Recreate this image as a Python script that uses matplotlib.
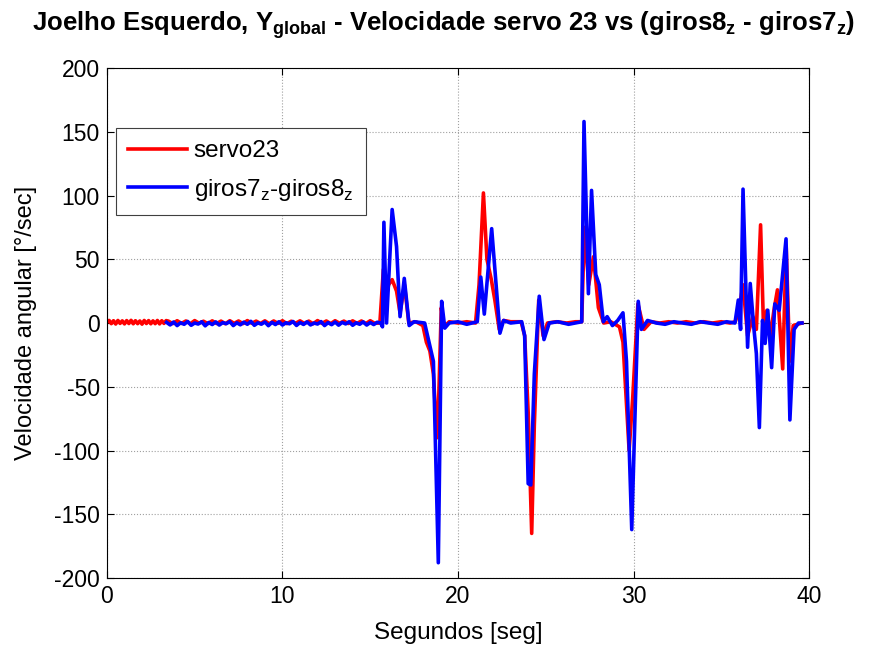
import numpy as np
import matplotlib
matplotlib.use("Agg")
import matplotlib.pyplot as plt

plt.rcParams['font.family'] = ['Liberation Sans', 'DejaVu Sans']
plt.rcParams['mathtext.fontset'] = 'custom'
plt.rcParams['mathtext.rm'] = 'Liberation Sans'
plt.rcParams['mathtext.bf'] = 'Liberation Sans:bold'
plt.rcParams['axes.unicode_minus'] = False

# servo23 - ondulacao inicial (0 a 3.4 s, passo 0.125)
red_ini_t = np.arange(0, 3.5, 0.125)
red_ini_v = [0.5, 2.0, -0.5, 1.8, -0.8, 2.0, -0.3, 1.7, -0.7, 1.9, -0.4, 2.1, -0.6, 1.8,
             -0.5, 1.6, -0.9, 2.0, -0.4, 1.9, -0.6, 1.7, -0.5, 2.0, -0.7, 1.8, -0.3, 1.9]
# servo23 - repouso (3.5 a 15.25 s, passo 0.25)
red_rep_t = np.arange(3.5, 15.5, 0.25)
red_rep_v = [1.5, -0.5, 1.8, -0.3, 1.6, -0.6, 1.9, -0.2, 1.4, -0.5, 1.7, -0.4, 1.5, -0.6,
             1.8, -0.3, 1.6, -0.5, 1.9, -0.2, 1.5, -0.4, 1.7, -0.6, 1.6, -0.3, 1.8, -0.5,
             1.4, -0.2, 1.7, -0.4, 1.5, -0.6, 1.9, -0.3, 1.6, -0.5, 1.8, -0.2, 1.5, -0.4,
             1.7, -0.3, 1.6, -0.5, 1.8, -0.2]
# servo23 - movimentos
red_mov_t = [15.55, 15.75, 15.9, 16.05, 16.25, 16.5, 16.7, 16.95, 17.2, 17.6, 18.0, 18.2,
             18.4, 18.6, 18.8, 18.9, 19.05, 19.2, 19.5, 20.0, 20.5, 21.0, 21.2, 21.45, 21.65,
             21.9, 22.1, 22.35, 22.6, 23.0, 23.6, 23.8, 24.0, 24.2, 24.35, 24.6, 24.85, 25.1,
             25.6, 26.2, 26.7, 27.05, 27.2, 27.45, 27.72, 28.0, 28.3, 28.7, 29.2, 29.4, 29.75,
             29.95, 30.25, 30.6, 31.0, 31.5, 32.0, 32.5, 33.0, 33.5, 34.0, 34.5, 35.0, 35.5,
             35.8, 36.0, 36.24, 36.5, 36.8, 37.0, 37.24, 37.4, 37.6, 37.8, 38.0, 38.2, 38.5,
             38.7, 38.9, 39.1, 39.6]
red_mov_v = [0, 42, 20, 30, 34, 25, 8, 30, 0, 1, -2, -15,
             -22, -40, -90, -60, 12, -3, 1, 0, 1, 0, 30, 102, 50,
             34, 18, -5, 2, 1, 1, -10, -70, -165, -80, 18, -10, 0,
             1, 0, 1, 1, 75, 30, 52, 12, 0, 1, -3, -15, -100,
             -60, 15, -5, 1, 0, 1, 0, 1, 0, 1, 0, 1, 0,
             1, 10, 30, -10, 5, -5, 77, 0, 10, -10, 10, 26, -36,
             60, -30, -2, 0]

# giros7z - giros8z - repouso (3.4 a 15.4 s, passo 0.2)
blue_rep_t = np.arange(3.4, 15.5, 0.2)
blue_rep_v = [0.5, -1.5, 0.8, -2.0, 0.2, -1.0, 1.2, -1.8, 0.0, -0.8, 1.0, -2.2, 0.4, -1.2,
              0.9, -1.6, 0.3, -0.5, 1.1, -2.0, 0.2, -1.4, 0.7, -1.0, 1.3, -1.8, 0.1, -0.9,
              0.8, -2.1, 0.5, -1.2, 1.0, -1.6, 0.2, -0.6, 1.2, -1.9, 0.4, -1.1, 0.9, -1.5,
              0.0, -0.8, 1.1, -2.0, 0.3, -1.3, 0.8, -1.7, 0.5, -0.7, 1.0, -1.8, 0.2, -1.0,
              0.9, -1.6, 0.4, -1.2, 0.6]
# giros7z - giros8z - movimentos
blue_mov_t = [15.6, 15.7, 15.78, 15.93, 16.25, 16.5, 16.7, 16.94, 17.22, 17.5, 18.1, 18.3,
              18.6, 18.88, 19.07, 19.25, 19.5, 20.0, 20.5, 21.1, 21.3, 21.5, 21.92, 22.39,
              22.6, 23.0, 23.63, 23.8, 24.0, 24.15, 24.35, 24.63, 24.9, 25.2, 25.7, 26.3,
              27.05, 27.18, 27.43, 27.61, 27.85, 28.05, 28.28, 28.5, 28.8, 29.1, 29.4, 29.6,
              29.9, 30.27, 30.45, 30.8, 31.3, 31.8, 32.3, 32.8, 33.3, 33.8, 34.3, 34.8, 35.3,
              35.78, 35.97, 36.1, 36.24, 36.5, 36.65, 36.85, 37.0, 37.17, 37.35, 37.5, 37.65,
              37.87, 38.05, 38.3, 38.69, 38.91, 39.15, 39.4, 39.6]
blue_mov_v = [0, -3, 79, 0, 89, 60, 5, 35, -2, 1, 0, -12,
              -30, -188, 17, -4, 0, 1, -1, 1, 36, 7, 74, -8,
              2, 0, 1, -10, -126, -127, -40, 21, -13, 0, 1, -1,
              1, 158, 23, 104, 38, 30, 1, 5, -2, 2, 8, -30,
              -162, 17, -5, 2, 0, -1, 1, 0, -1, 1, 0, -1, 1,
              0, 18, -5, 105, -19, 31, -3, -24, -82, 2, -16, 10,
              -35, 15, 10, 66, -76, -5, 0, 0]

red_t = np.concatenate([red_ini_t, red_rep_t, red_mov_t])
red_v = np.concatenate([red_ini_v, red_rep_v, red_mov_v])
blue_t = np.concatenate([blue_rep_t, blue_mov_t])
blue_v = np.concatenate([blue_rep_v, blue_mov_v])

fig = plt.figure(figsize=(8.91, 6.47), dpi=100)
ax = fig.add_axes([0.120, 0.1066, 0.788, 0.7883])

ax.plot(red_t, red_v, color='#ff0000', lw=2.6, label='servo23')
ax.plot(blue_t, blue_v, color='#0000ff', lw=2.6, label=r'giros7$_{\rm z}$-giros8$_{\rm z}$')

ax.set_xlim(0, 40)
ax.set_ylim(-200, 200)
ax.set_xticks([0, 10, 20, 30, 40])
ax.set_yticks(np.arange(-200, 201, 50))
ax.grid(True, color='#a0a0a0', linestyle=':', linewidth=0.8)
ax.tick_params(direction='in', top=True, right=True, labelsize=16.5, length=5, width=0.8, pad=5)
for s in ax.spines.values():
    s.set_linewidth(0.8)

ax.set_xlabel('Segundos [seg]', fontsize=17.5, labelpad=10)
ax.set_ylabel('Velocidade angular [°/sec]', fontsize=17, labelpad=12)
ax.set_title(r'Joelho Esquerdo, $\mathbf{Y_{global}}$ - Velocidade servo 23 vs (giros8$\mathbf{_z}$ - giros7$\mathbf{_z}$)',
             fontsize=18.5, fontweight='bold', pad=27, x=0.48)

leg = ax.legend(loc='upper left', bbox_to_anchor=(0.013, 0.882), borderaxespad=0,
                fontsize=17.5, fancybox=False, edgecolor='#404040', framealpha=1,
                handlelength=2.4, handletextpad=0.3, labelspacing=0.6, borderpad=0.5)
leg.get_frame().set_linewidth(0.8)

fig.savefig('out.png', dpi=100)
